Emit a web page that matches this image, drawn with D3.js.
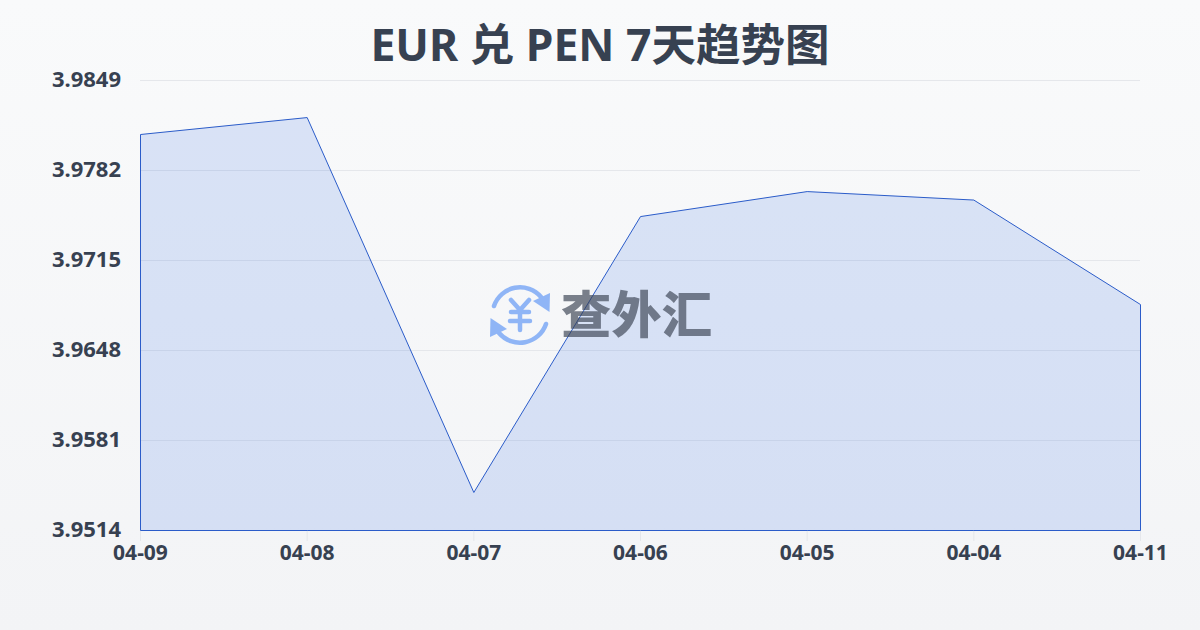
<!DOCTYPE html>
<html><head><meta charset="utf-8">
<script src="https://cdn.jsdelivr.net/npm/d3@7/dist/d3.min.js"></script>
<style>
html,body{margin:0;padding:0;width:1200px;height:630px;overflow:hidden;background:#f9fafb}
svg{display:block}
text{font-family:"Noto Sans","Noto Sans CJK SC",sans-serif;font-weight:700;fill:#374151}
</style></head><body><svg id="c" width="1200" height="630"></svg>
<script>
const titleText = "EUR 兑 PEN 7天趋势图";
const dates = ["04-09","04-08","04-07","04-06","04-05","04-04","04-11"];
const rates = [3.98088,3.98214,3.95423,3.97477,3.97663,3.97600,3.96822];
const yTicks = [3.9514,3.9581,3.9648,3.9715,3.9782,3.9849];

const svg = d3.select("#c");
const defs = svg.append("defs");
const bg = defs.append("linearGradient").attr("id","bg").attr("x1",0).attr("y1",0).attr("x2",0).attr("y2",1);
bg.append("stop").attr("offset",0).attr("stop-color","#f9fafb");
bg.append("stop").attr("offset",1).attr("stop-color","#f3f4f6");
svg.append("rect").attr("width",1200).attr("height",630).attr("fill","url(#bg)");

const x = d3.scalePoint().domain(d3.range(dates.length)).range([140.5,1140.5]);
const y = d3.scaleLinear().domain([3.9514,3.9849]).range([530.5,80.5]);

svg.append("text").attr("x",600).attr("y",60.5).attr("text-anchor","middle")
  .style("font-size","44.5px").text(titleText);

svg.append("g").selectAll("line").data(yTicks).join("line")
  .attr("x1",140).attr("x2",1140).attr("y1",d=>y(d)).attr("y2",d=>y(d))
  .attr("stroke","#e5e7eb").attr("stroke-width",1);

svg.append("g").selectAll("line").data(d3.range(dates.length)).join("line")
  .attr("x1",d=>x(d)).attr("x2",d=>x(d)).attr("y1",530.5).attr("y2",541)
  .attr("stroke","#e5e7eb").attr("stroke-width",1);

svg.append("g").selectAll("text").data(yTicks).join("text")
  .attr("x",121).attr("y",d=>y(d)+6).attr("text-anchor","end")
  .style("font-size","22px").text(d=>d.toFixed(4));

svg.append("g").selectAll("text").data(dates).join("text")
  .attr("x",(d,i)=>x(i)).attr("y",559.5).attr("text-anchor","middle")
  .style("font-size","21px").text(d=>d);

const area = d3.area().x((d,i)=>x(i)).y0(y(3.9514)).y1(d=>y(d));
svg.append("path").datum(rates).attr("d",area)
  .attr("fill","#1d5ce0").attr("fill-opacity",0.14)
  .attr("stroke","#2b5cc9").attr("stroke-width",1).attr("stroke-linejoin","round");

// watermark
const wm = svg.append("g").attr("opacity",0.66);
const ic = wm.append("g").attr("transform","translate(520,315)").attr("fill","none")
  .attr("stroke","#5b94f5").attr("stroke-linecap","round").attr("stroke-linejoin","round");
ic.append("path").attr("stroke-width",4.5).attr("d","M-26,-9 A27.5,27.5 0 0 1 21,-18");
ic.append("path").attr("stroke-width",4.5).attr("d","M26,9 A27.5,27.5 0 0 1 -21,18");
ic.append("path").attr("fill","#5b94f5").attr("stroke","none").attr("d","M13,-14 L30,-22 L29.5,-3 Z");
ic.append("path").attr("fill","#5b94f5").attr("stroke","none").attr("d","M-13,14 L-30,22 L-29.5,3 Z");
ic.append("path").attr("stroke-width",4.5).attr("d","M-9,-15 L0,-5 L9,-15 M0,-5 L0,15 M-9,-3 L9,-3 M-10,6 L10,6");
wm.append("text").attr("x",561).attr("y",333).attr("textLength",151).attr("lengthAdjust","spacingAndGlyphs")
  .style("font-size","50px").style("font-family",'"Noto Sans CJK SC"').style("font-weight",900)
  .style("fill","#3a4252").text("查外汇");
</script></body></html>
